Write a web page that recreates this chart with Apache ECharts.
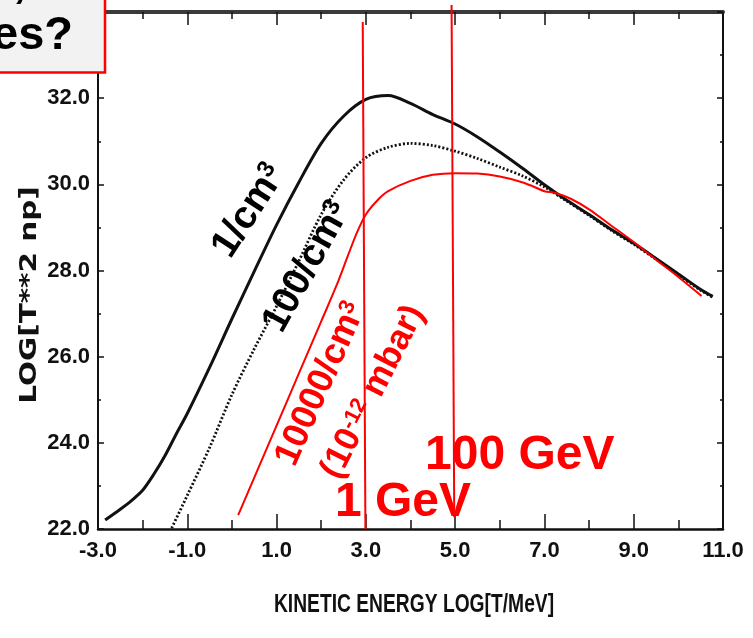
<!DOCTYPE html>
<html>
<head>
<meta charset="utf-8">
<script src="https://cdn.jsdelivr.net/npm/echarts@6/dist/echarts.min.js"></script>
<style>
  html, body { margin: 0; padding: 0; background: #ffffff; }
  #chart { width: 753px; height: 638px; }
</style>
</head>
<body>
<div id="chart"></div>
<script>
// Axis ranges (log10 of kinetic energy in MeV, log10 of T^2 * n_p)
const xMin = -3, xMax = 11;
const yMin = 22, yMax = 34;
const xTickLabels = ['-3.0', '-1.0', '1.0', '3.0', '5.0', '7.0', '9.0', '11.0'];
const yTickLabels = ['22.0', '24.0', '26.0', '28.0', '30.0', '32.0', '34.0'];

// Density 1/cm^3 (solid)
const lowDensityX = [-2.84, -2.5, -2.25, -2.0, -1.75, -1.5, -1.25, -1.0, -0.5, 0.0, 0.5, 1.0, 1.5, 2.0, 2.5, 3.0, 3.5, 4.0, 4.5, 5.0, 5.5, 6.0, 6.5, 7.0, 7.5, 8.0, 8.5, 9.0, 9.5, 10.0, 10.5, 10.77];
const lowDensityY = [22.21, 22.46, 22.66, 22.90, 23.27, 23.70, 24.20, 24.68, 25.75, 26.88, 27.98, 29.06, 30.05, 30.95, 31.58, 31.97, 32.06, 31.88, 31.62, 31.40, 31.10, 30.75, 30.38, 29.99, 29.63, 29.30, 28.95, 28.63, 28.28, 27.92, 27.56, 27.40];

// Density 100/cm^3 (dotted)
const midDensityX = [-1.35, -1.0, -0.5, 0.0, 0.5, 1.0, 1.5, 2.0, 2.5, 3.0, 3.5, 4.0, 4.5, 5.0, 5.5, 6.0, 6.5, 7.0, 7.5, 8.0, 8.5, 9.0, 9.5, 10.0, 10.5, 10.77];
const midDensityY = [22.02, 22.78, 23.89, 25.12, 26.18, 27.17, 28.22, 29.30, 30.10, 30.62, 30.86, 30.95, 30.90, 30.77, 30.60, 30.40, 30.20, 29.94, 29.61, 29.28, 28.93, 28.61, 28.26, 27.90, 27.54, 27.38];

// Density 10000/cm^3 (red)
const highDensityX = [0.14, 0.5, 1.0, 1.5, 2.0, 2.35, 2.6, 2.8, 3.0, 3.25, 3.5, 4.0, 4.5, 5.0, 5.5, 6.0, 6.5, 6.75, 7.0, 7.25, 7.6, 8.0, 8.5, 9.0, 9.5, 10.0, 10.52];
const highDensityY = [22.32, 23.19, 24.40, 25.61, 26.82, 27.67, 28.35, 28.88, 29.30, 29.62, 29.84, 30.08, 30.22, 30.26, 30.25, 30.18, 30.05, 29.95, 29.84, 29.80, 29.66, 29.42, 29.04, 28.66, 28.25, 27.85, 27.41];

// Hand-drawn energy markers: 1 GeV and 100 GeV
const oneGevX = [2.93, 2.99];
const oneGevY = [33.77, 22.0];
const hundredGevX = [4.92, 4.98];
const hundredGevY = [34.16, 22.27];

function zip(xs, ys) {
  return xs.map((x, i) => [x, ys[i]]);
}

const labelFont = '"Liberation Sans", Arial, sans-serif';
const boldFont = '"Liberation Sans", Arial, sans-serif';
const ink = '#111111';
const red = '#ff0000';

const chart = echarts.init(document.getElementById('chart'), null, { renderer: 'canvas' });

// Rich styles for captions with a raised exponent
function sup(color, size) {
  return {
    a: { fontSize: size, fontWeight: 'bold', fontFamily: boldFont, fill: color },
    s: { fontSize: Math.round(size * 0.62), fontWeight: 'bold', fontFamily: boldFont, fill: color, verticalAlign: 'top' }
  };
}

const option = {
  animation: false,
  backgroundColor: '#ffffff',
  grid: { left: 98, right: 30, top: 12, bottom: 109, containLabel: false, outerBoundsMode: 'none' },
  xAxis: [
    {
      type: 'value', min: xMin, max: xMax, interval: 2, position: 'bottom',
      axisLine: { onZero: false, lineStyle: { color: ink, width: 2.5 } },
      axisTick: { inside: true, length: 15, lineStyle: { color: ink, width: 1.5 } },
      minorTick: { show: true, splitNumber: 2, length: 9, lineStyle: { color: ink, width: 1.5 } },
      splitLine: { show: false },
      minorSplitLine: { show: false },
      axisLabel: {
        margin: 11, color: ink, fontFamily: labelFont, fontWeight: 'bold', fontSize: 22,
        formatter: v => xTickLabels[Math.round((v - xMin) / 2)]
      }
    },
    {
      type: 'value', min: xMin, max: xMax, interval: 2, position: 'top',
      axisLine: { onZero: false, lineStyle: { color: '#3a3a3a', width: 4 } },
      axisTick: { inside: true, length: 13, lineStyle: { color: ink, width: 1.5 } },
      minorTick: { show: true, splitNumber: 2, length: 7, lineStyle: { color: ink, width: 1.5 } },
      splitLine: { show: false },
      axisLabel: { show: false }
    }
  ],
  yAxis: [
    {
      type: 'value', min: yMin, max: yMax, interval: 2, position: 'left',
      axisLine: { onZero: false, lineStyle: { color: ink, width: 2 } },
      axisTick: { inside: true, length: 6, lineStyle: { color: ink, width: 1.5 } },
      minorTick: { show: true, splitNumber: 2, length: 3, lineStyle: { color: ink, width: 1.5 } },
      splitLine: { show: false },
      axisLabel: {
        margin: 8, color: ink, fontFamily: labelFont, fontWeight: 'bold', fontSize: 22,
        formatter: v => yTickLabels[Math.round((v - yMin) / 2)]
      }
    },
    {
      type: 'value', min: yMin, max: yMax, interval: 2, position: 'right',
      axisLine: { onZero: false, lineStyle: { color: ink, width: 2 } },
      axisTick: { inside: true, length: 6, lineStyle: { color: ink, width: 1.5 } },
      minorTick: { show: true, splitNumber: 2, length: 3, lineStyle: { color: ink, width: 1.5 } },
      splitLine: { show: false },
      axisLabel: { show: false }
    }
  ],
  series: [
    {
      name: '1/cm3', type: 'line', xAxisIndex: 0, yAxisIndex: 0,
      data: zip(lowDensityX, lowDensityY), smooth: 0.3, showSymbol: false, z: 4,
      lineStyle: { color: ink, width: 3 }
    },
    {
      name: '100/cm3', type: 'line', xAxisIndex: 0, yAxisIndex: 0,
      data: zip(midDensityX, midDensityY), smooth: 0.3, showSymbol: false, z: 3,
      lineStyle: { color: '#111111', width: 2.8, type: [2, 2] }
    },
    {
      name: '10000/cm3', type: 'line', xAxisIndex: 0, yAxisIndex: 0,
      data: zip(highDensityX, highDensityY), smooth: 0.3, showSymbol: false, z: 5,
      lineStyle: { color: red, width: 2 }
    },
    {
      name: '1 GeV', type: 'line', xAxisIndex: 0, yAxisIndex: 0, clip: false,
      data: zip(oneGevX, oneGevY), showSymbol: false, z: 6,
      lineStyle: { color: red, width: 2 }
    },
    {
      name: '100 GeV', type: 'line', xAxisIndex: 0, yAxisIndex: 0, clip: false,
      data: zip(hundredGevX, hundredGevY), showSymbol: false, z: 6,
      lineStyle: { color: red, width: 2 }
    }
  ],
  graphic: [
    {
      type: 'text', x: 30, y: 295, rotation: Math.PI / 2, scaleX: 1.28, z: 50,
      style: { text: 'LOG[T**2 np]', fill: ink, font: 'bold 23px "DejaVu Sans", sans-serif', textAlign: 'center', textVerticalAlign: 'middle' }
    },
    {
      type: 'text', x: 414, y: 605, scaleX: 0.77, z: 50,
      style: { text: 'KINETIC ENERGY LOG[T/MeV]', fill: ink, font: 'bold 25px "Liberation Sans", Arial, sans-serif', textAlign: 'center', textVerticalAlign: 'middle' }
    },
    {
      type: 'text', x: 249, y: 211, rotation: 57 * Math.PI / 180, z: 50,
      style: { text: '{a|1/cm}{s|3}', rich: sup('#000000', 39), textAlign: 'center', textVerticalAlign: 'middle' }
    },
    {
      type: 'text', x: 307, y: 267, rotation: 61 * Math.PI / 180, z: 50,
      style: { text: '{a|100/cm}{s|3}', rich: sup('#000000', 38), textAlign: 'center', textVerticalAlign: 'middle' }
    },
    {
      type: 'text', x: 321, y: 384, rotation: 66 * Math.PI / 180, z: 50,
      style: { text: '{a|10000/cm}{s|3}', rich: sup(red, 36), textAlign: 'center', textVerticalAlign: 'middle' }
    },
    {
      type: 'text', x: 373, y: 392, rotation: 63 * Math.PI / 180, z: 50,
      style: { text: '{a|(10}{s|-12}{a| mbar)}', rich: sup(red, 35), textAlign: 'center', textVerticalAlign: 'middle' }
    },
    {
      type: 'text', x: 425, y: 456, z: 50,
      style: { text: '100 GeV', fill: red, font: 'bold 48px "Liberation Sans", Arial, sans-serif', textAlign: 'left', textVerticalAlign: 'middle' }
    },
    {
      type: 'text', x: 335, y: 503, z: 50,
      style: { text: '1 GeV', fill: red, font: 'bold 48px "Liberation Sans", Arial, sans-serif', textAlign: 'left', textVerticalAlign: 'middle' }
    },
    {
      type: 'rect', z: 100,
      shape: { x: -10, y: -10, width: 115, height: 82.5 },
      style: { fill: '#f2f2f2', stroke: red, lineWidth: 2.5 }
    },
    {
      type: 'text', x: 13, y: -16, z: 101,
      style: { text: ',', fill: '#000000', font: 'bold 47px "Liberation Sans", Arial, sans-serif', textAlign: 'left', textVerticalAlign: 'middle' }
    },
    {
      type: 'text', x: 73, y: 36, z: 101,
      style: { text: 'es?', fill: '#000000', font: 'bold 47px "Liberation Sans", Arial, sans-serif', textAlign: 'right', textVerticalAlign: 'middle' }
    }
  ]
};

chart.setOption(option);
</script>
</body>
</html>
